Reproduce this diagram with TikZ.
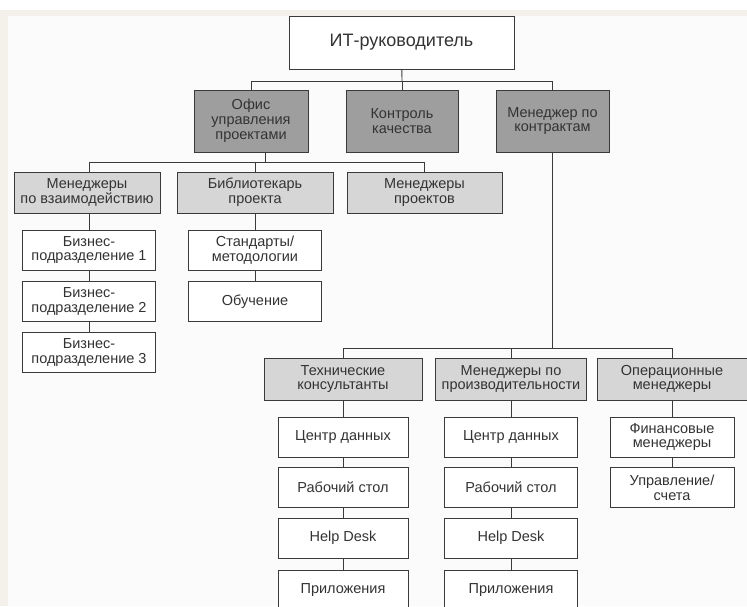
\documentclass[tikz,border=0pt]{standalone}
\usepackage{fontspec}
\setmainfont{Liberation Sans}
\definecolor{txt}{HTML}{333333}
\definecolor{edge}{HTML}{3A3A3A}
\definecolor{darkbox}{HTML}{9E9E9E}
\definecolor{lightbox}{HTML}{D6D6D6}
\definecolor{paper}{HTML}{FBFBFB}
\definecolor{beige}{HTML}{F4F0EA}
\tikzset{bw/.style={minimum width=#1}}
\begin{document}
\begin{tikzpicture}[x=1pt,y=-1pt]
    \tikzstyle{every node}=[draw=edge,line width=1pt,text=txt,align=center,inner sep=0pt,font=\fontsize{14.5}{14.8}\selectfont]
    \tikzstyle{head}=[fill=white,minimum height=53pt,font=\fontsize{18}{20}\selectfont]
    \tikzstyle{dark}=[fill=darkbox,minimum height=62pt]
    \tikzstyle{light}=[fill=lightbox,minimum height=41pt]
    \tikzstyle{leaf}=[fill=white,minimum height=40pt]
    \tikzstyle{wire}=[draw=edge,line width=0.9pt]
    \useasboundingbox (0,0) rectangle (747,606);
    \clip (0,0) rectangle (747,606);
    \fill[paper] (0,0) rectangle (747,606);
    \fill[white] (0,0) rectangle (747,10);
    \fill[beige] (0,10) rectangle (747,16);
    \fill[beige] (0,10) rectangle (8,606);
    \draw node[head,bw=225pt](top)at(401.5,42.5){ИТ-руководитель}
          node[dark,bw=114pt](ofis)at(251,121){Офис\\управления\\проектами}
          node[dark,bw=112pt](kontr)at(402,121){Контроль\\качества}
          node[dark,bw=113pt](menk)at(552.5,121){Менеджер по\\контрактам};
    \draw node[light,bw=146pt](vzaim)at(87,192.5){Менеджеры\\по взаимодействию}
          node[light,bw=156pt](bibl)at(255,192.5){Библиотекарь\\проекта}
          node[light,bw=155pt](proekt)at(424.5,192.5){Менеджеры\\проектов};
    \draw node[leaf,bw=133pt](bp1)at(89,250){Бизнес-\\подразделение 1}
          node[leaf,bw=133pt](bp2)at(89,301.5){Бизнес-\\подразделение 2}
          node[leaf,bw=133pt](bp3)at(89,352.5){Бизнес-\\подразделение 3}
          node[leaf,bw=133pt](std)at(255,250){Стандарты/\\методологии}
          node[leaf,bw=133pt](obuch)at(255,301.5){Обучение};
    \draw node[light,bw=158pt,minimum height=42pt](tech)at(343,379){Технические\\консультанты}
          node[light,bw=151pt,minimum height=42pt](proizv)at(511,379){Менеджеры по\\производительности}
          node[light,bw=150pt,minimum height=42pt](oper)at(672,379){Операционные\\менеджеры};
    \draw node[leaf,bw=130pt](t1)at(343,437){Центр данных}
          node[leaf,bw=130pt](t2)at(343,487.5){Рабочий стол}
          node[leaf,bw=130pt](t3)at(343,538){Help Desk}
          node[leaf,bw=130pt](t4)at(343,590){Приложения}
          node[leaf,bw=133pt](p1)at(511,437){Центр данных}
          node[leaf,bw=133pt](p2)at(511,487.5){Рабочий стол}
          node[leaf,bw=133pt](p3)at(511,538){Help Desk}
          node[leaf,bw=133pt](p4)at(511,590){Приложения}
          node[leaf,bw=124pt](f1)at(672,437){Финансовые\\менеджеры}
          node[leaf,bw=124pt](f2)at(672,487.5){Управление/\\счета};
    \coordinate (b1) at (402,81);
    \coordinate (b2) at (265,162);
    \coordinate (b3) at (552.5,348);
    \draw[wire](top)--(b1);
    \draw[wire](b1)-|(ofis);
    \draw[wire](b1)--(kontr);
    \draw[wire](b1)-|(menk);
    \draw[wire](ofis.south-|b2)--(b2);
    \draw[wire](b2)-|(vzaim.north-|bp1);
    \draw[wire](b2)-|(bibl);
    \draw[wire](b2)-|(proekt);
    \draw[wire](vzaim.south-|bp1)--(bp1);
    \draw[wire](bp1)--(bp2);
    \draw[wire](bp2)--(bp3);
    \draw[wire](bibl)--(std);
    \draw[wire](std)--(obuch);
    \draw[wire](menk)--(b3);
    \draw[wire](b3)-|(tech);
    \draw[wire](b3)-|(proizv);
    \draw[wire](b3)-|(oper);
    \draw[wire](tech)--(t1);
    \draw[wire](t1)--(t2);
    \draw[wire](t2)--(t3);
    \draw[wire](t3)--(t4);
    \draw[wire](proizv)--(p1);
    \draw[wire](p1)--(p2);
    \draw[wire](p2)--(p3);
    \draw[wire](p3)--(p4);
    \draw[wire](oper)--(f1);
    \draw[wire](f1)--(f2);
\end{tikzpicture}
\end{document}
